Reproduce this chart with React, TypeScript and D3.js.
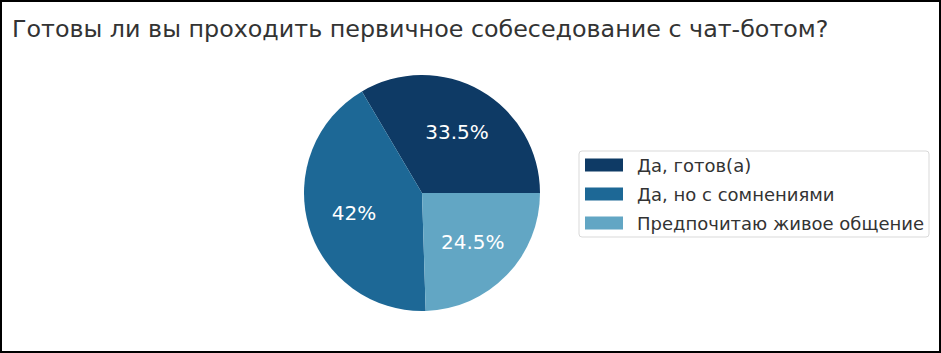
import { useEffect } from "react";
import * as d3 from "d3";

const labels = ["Да, готов(а)", "Да, но с сомнениями", "Предпочитаю живое общение"];
const values = [33.5, 42, 24.5];
const pctLabels = ["33.5%", "42%", "24.5%"];
const colors = ["#0e3a65", "#1d6896", "#62a6c4"];

const title = "Готовы ли вы проходить первичное собеседование с чат-ботом?";

const W = 941;
const H = 353;
const font = "DejaVu Sans, sans-serif";

export default function App() {
    useEffect(() => {
        document.body.style.margin = "0";
    }, []);

    const cx = 422;
    const cy = 193;
    const r = 118;

    // matplotlib style: start at 3 o'clock, counterclockwise
    const pie = d3
        .pie<number>()
        .sort(null)
        .startAngle(Math.PI / 2)
        .endAngle(Math.PI / 2 - 2 * Math.PI)(values);

    const arc = d3.arc<d3.PieArcDatum<number>>().innerRadius(0).outerRadius(r);
    const labelArc = d3.arc<d3.PieArcDatum<number>>().innerRadius(r * 0.6).outerRadius(r * 0.6);

    const legendX = 579;
    const legendY = 151;
    const rowH = 29;

    return (
        <svg width={W} height={H} style={{ display: "block" }} fontFamily={font}>
            <rect x={1} y={1} width={W - 2} height={H - 2} fill="white" stroke="black" strokeWidth={2} />
            <text x={12} y={37} fontSize={23.8} fill="#333333">
                {title}
            </text>
            <g transform={`translate(${cx},${cy})`}>
                {pie.map((d, i) => (
                    <path key={i} d={arc(d) || ""} fill={colors[i]} />
                ))}
                {pie.map((d, i) => {
                    const [x, y] = labelArc.centroid(d);
                    return (
                        <text
                            key={i}
                            x={x}
                            y={y}
                            fontSize={20}
                            fill="white"
                            textAnchor="middle"
                            dominantBaseline="central"
                        >
                            {pctLabels[i]}
                        </text>
                    );
                })}
            </g>
            <rect
                x={legendX}
                y={legendY}
                width={350}
                height={86}
                rx={3}
                fill="white"
                stroke="#d9d9d9"
                strokeWidth={1}
            />
            {labels.map((l, i) => (
                <g key={i} transform={`translate(${legendX + 6},${legendY + 14 + i * rowH})`}>
                    <rect x={0} y={-6.5} width={38} height={13} fill={colors[i]} />
                    <text x={52} y={0} fontSize={18} fill="#333333" dominantBaseline="central">
                        {l}
                    </text>
                </g>
            ))}
        </svg>
    );
}
